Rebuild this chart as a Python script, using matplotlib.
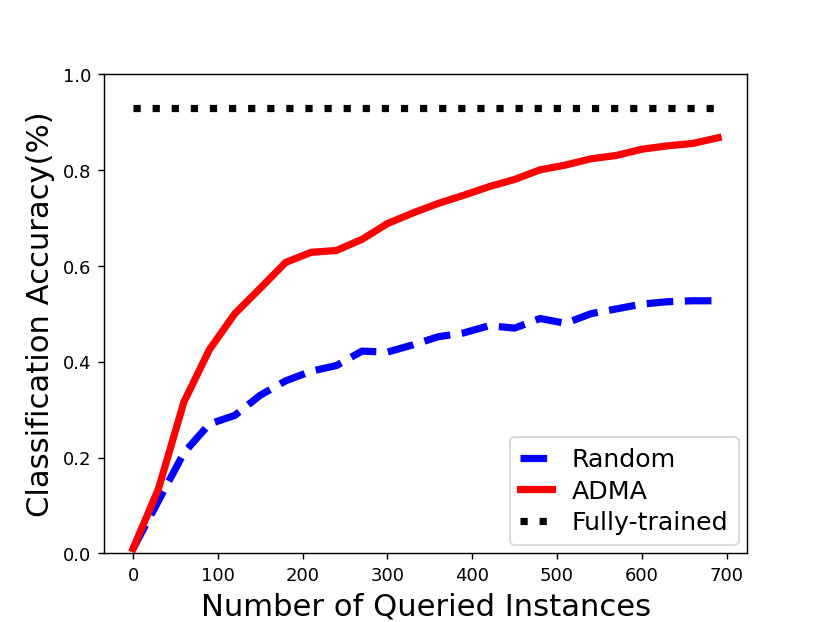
import matplotlib
matplotlib.use("Agg")
import matplotlib.pyplot as plt

queries = [0, 30, 60, 90, 120, 150, 180, 210, 240, 270, 300, 330, 360, 390,
           420, 450, 480, 510, 540, 570, 600, 630, 660, 690]
random_acc = [0.01, 0.11, 0.21, 0.27, 0.288, 0.33, 0.36, 0.38, 0.392, 0.422,
              0.42, 0.435, 0.452, 0.46, 0.475, 0.47, 0.49, 0.48, 0.50, 0.51,
              0.52, 0.525, 0.527, 0.527]
adma_acc = [0.01, 0.135, 0.316, 0.425, 0.50, 0.553, 0.607, 0.628, 0.632, 0.655,
            0.688, 0.71, 0.73, 0.747, 0.765, 0.78, 0.80, 0.81, 0.823, 0.83,
            0.843, 0.85, 0.855, 0.867]
full_acc = [0.93] * len(queries)

fig = plt.figure(figsize=(6.4, 4.8), dpi=129.75)
plt.plot(queries, random_acc, '--', c='blue', linewidth=4, label='Random')
plt.plot(queries, adma_acc, '-', c='red', linewidth=4, label='ADMA')
plt.plot(queries, full_acc, ':', c='black', linewidth=4, label='Fully-trained')
plt.ylim(0, 1.0)
plt.xlabel('Number of Queried Instances', fontsize=17)
plt.ylabel('Classification Accuracy(%)', fontsize=17)
plt.legend(loc='lower right', fontsize=14, handlelength=1.25,
           labelspacing=0.3, borderaxespad=0.35)

plt.savefig("out.png", dpi=129.75)
